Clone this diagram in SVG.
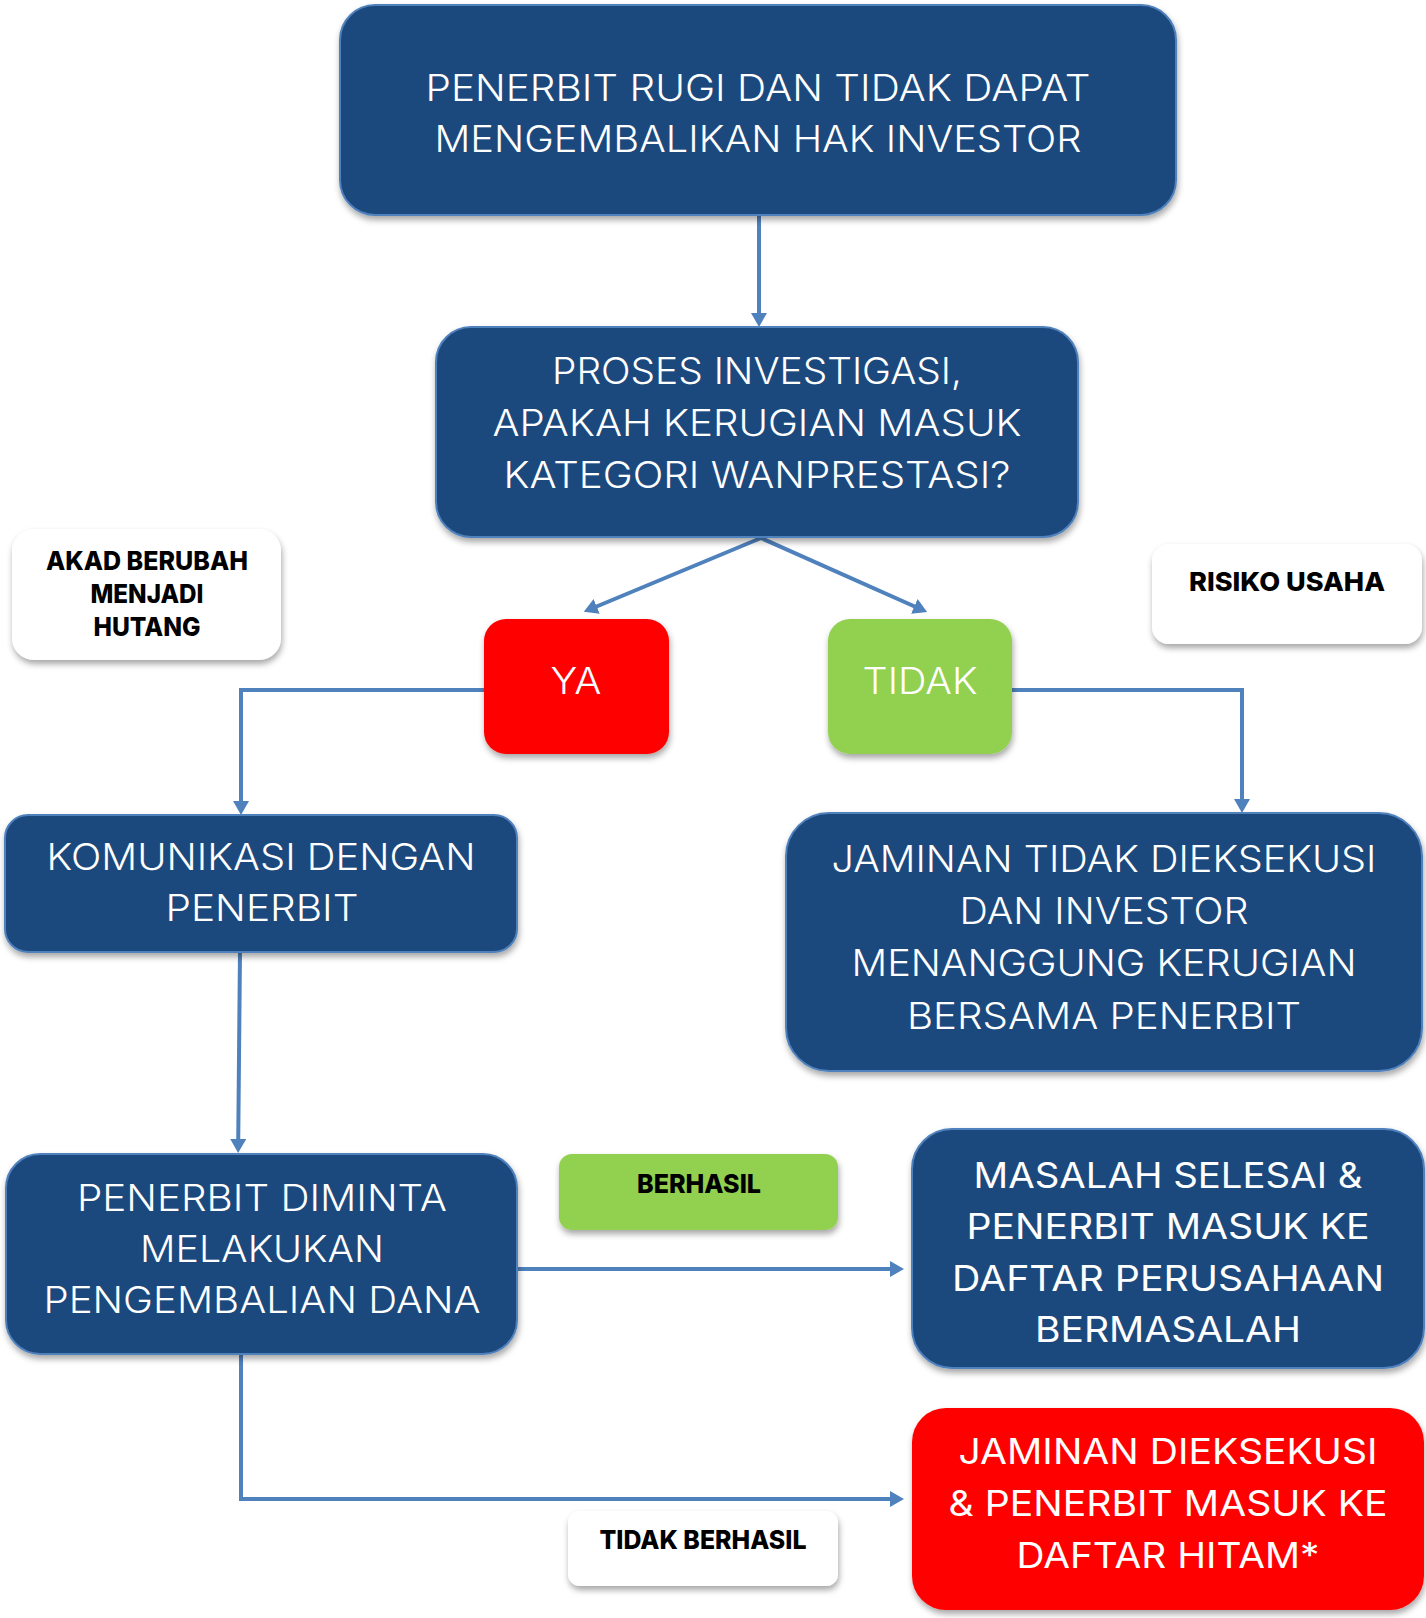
<svg xmlns="http://www.w3.org/2000/svg" width="1426" height="1618" viewBox="0 0 1426 1618">
<style>
.blue{fill:#1F497D;stroke:#4F81BD;stroke-width:2}
.red{fill:#FF0000}
.green{fill:#92D050}
.white{fill:#FFFFFF}
.box{filter:url(#sh)}
text{font-family:"Inter","Open Sans","Liberation Sans",sans-serif;text-anchor:middle}
.lt{fill:#FFFFFF;font-size:36.5px;font-weight:300}
.rg{fill:#FFFFFF;font-size:35px;font-weight:400}
.bd{fill:#000000;font-size:26px;font-weight:800}
.conn{fill:none;stroke:#4F81BD;stroke-width:4;marker-end:url(#arr)}
</style>
<defs>
<filter id="sh" x="-10%" y="-10%" width="120%" height="130%">
<feDropShadow dx="1" dy="4" stdDeviation="3" flood-color="#000000" flood-opacity="0.35"/>
</filter>
<marker id="arr" viewBox="0 0 14 16" refX="4" refY="8" markerWidth="14" markerHeight="16" markerUnits="userSpaceOnUse" orient="auto">
<path d="M0,0 L14,8 L0,16 z" fill="#4F81BD"/>
</marker>
</defs>
<rect width="1426" height="1618" fill="#FFFFFF"/>
<g id="connectors">
<path class="conn" d="M759,215 V317"/>
<path class="conn" d="M761,538 L593,608"/>
<path class="conn" d="M761,538 L918,608"/>
<path class="conn" d="M484,690 H241 V805"/>
<path class="conn" d="M1012,690 H1242 V803"/>
<path class="conn" d="M240,951 L238.2,1143"/>
<path class="conn" d="M517,1269 H894"/>
<path class="conn" d="M241,1354 V1499 H894"/>
</g>
<g id="n-top">
<rect class="blue box" x="340" y="5" width="836" height="210" rx="35"/>
<text class="lt" x="758" y="101" textLength="665" lengthAdjust="spacingAndGlyphs">PENERBIT RUGI DAN TIDAK DAPAT</text>
<text class="lt" x="758" y="152" textLength="647" lengthAdjust="spacingAndGlyphs">MENGEMBALIKAN HAK INVESTOR</text>
</g>
<g id="n-proses">
<rect class="blue box" x="436" y="327" width="642" height="210" rx="35"/>
<text class="lt" x="757" y="384" textLength="410" lengthAdjust="spacingAndGlyphs">PROSES INVESTIGASI,</text>
<text class="lt" x="757" y="436" textLength="529" lengthAdjust="spacingAndGlyphs">APAKAH KERUGIAN MASUK</text>
<text class="lt" x="757" y="488" textLength="507" lengthAdjust="spacingAndGlyphs">KATEGORI WANPRESTASI?</text>
</g>
<g id="n-akad">
<rect class="white box" x="12" y="529" width="269" height="131" rx="22"/>
<text class="bd" x="147" y="570" textLength="202" lengthAdjust="spacingAndGlyphs">AKAD BERUBAH</text>
<text class="bd" x="147" y="603" textLength="113" lengthAdjust="spacingAndGlyphs">MENJADI</text>
<text class="bd" x="147" y="636" textLength="107" lengthAdjust="spacingAndGlyphs">HUTANG</text>
</g>
<g id="n-ya">
<rect class="red box" x="484" y="619" width="185" height="135" rx="22"/>
<text class="lt" x="576" y="694" textLength="51" lengthAdjust="spacingAndGlyphs">YA</text>
</g>
<g id="n-tidak">
<rect class="green box" x="828" y="619" width="184" height="135" rx="22"/>
<text class="lt" x="920" y="694" textLength="115" lengthAdjust="spacingAndGlyphs">TIDAK</text>
</g>
<g id="n-risiko">
<rect class="white box" x="1152" y="544" width="270" height="100" rx="17"/>
<text class="bd" x="1287" y="591" textLength="196" lengthAdjust="spacingAndGlyphs">RISIKO USAHA</text>
</g>
<g id="n-komunikasi">
<rect class="blue box" x="5" y="815" width="512" height="137" rx="23"/>
<text class="lt" x="261" y="870" textLength="429" lengthAdjust="spacingAndGlyphs">KOMUNIKASI DENGAN</text>
<text class="lt" x="262" y="921" textLength="193" lengthAdjust="spacingAndGlyphs">PENERBIT</text>
</g>
<g id="n-jaminan-tidak">
<rect class="blue box" x="786" y="813" width="636" height="258" rx="43"/>
<text class="lt" x="1104" y="872" textLength="545" lengthAdjust="spacingAndGlyphs">JAMINAN TIDAK DIEKSEKUSI</text>
<text class="lt" x="1104" y="924" textLength="289" lengthAdjust="spacingAndGlyphs">DAN INVESTOR</text>
<text class="lt" x="1104" y="976" textLength="505" lengthAdjust="spacingAndGlyphs">MENANGGUNG KERUGIAN</text>
<text class="lt" x="1104" y="1029" textLength="394" lengthAdjust="spacingAndGlyphs">BERSAMA PENERBIT</text>
</g>
<g id="n-penerbit-diminta">
<rect class="blue box" x="6" y="1154" width="511" height="200" rx="34"/>
<text class="lt" x="262" y="1211" textLength="370" lengthAdjust="spacingAndGlyphs">PENERBIT DIMINTA</text>
<text class="lt" x="262" y="1262" textLength="244" lengthAdjust="spacingAndGlyphs">MELAKUKAN</text>
<text class="lt" x="262" y="1313" textLength="437" lengthAdjust="spacingAndGlyphs">PENGEMBALIAN DANA</text>
</g>
<g id="n-berhasil">
<rect class="green box" x="559" y="1154" width="279" height="76" rx="13"/>
<text class="bd" x="699" y="1193" textLength="124" lengthAdjust="spacingAndGlyphs">BERHASIL</text>
</g>
<g id="n-masalah">
<rect class="blue box" x="912" y="1129" width="512" height="239" rx="40"/>
<text class="rg" x="1168" y="1188" textLength="389" lengthAdjust="spacingAndGlyphs">MASALAH SELESAI &amp;</text>
<text class="rg" x="1168" y="1239" textLength="403" lengthAdjust="spacingAndGlyphs">PENERBIT MASUK KE</text>
<text class="rg" x="1168" y="1291" textLength="432" lengthAdjust="spacingAndGlyphs">DAFTAR PERUSAHAAN</text>
<text class="rg" x="1168" y="1342" textLength="266" lengthAdjust="spacingAndGlyphs">BERMASALAH</text>
</g>
<g id="n-jaminan-dieksekusi">
<rect class="red box" x="912" y="1408" width="512" height="202" rx="34"/>
<text class="rg" x="1168" y="1464" textLength="419" lengthAdjust="spacingAndGlyphs">JAMINAN DIEKSEKUSI</text>
<text class="rg" x="1168" y="1516" textLength="439" lengthAdjust="spacingAndGlyphs">&amp; PENERBIT MASUK KE</text>
<text class="rg" x="1168" y="1568" textLength="303" lengthAdjust="spacingAndGlyphs">DAFTAR HITAM*</text>
</g>
<g id="n-tidak-berhasil">
<rect class="white box" x="568" y="1511" width="270" height="75" rx="12"/>
<text class="bd" x="703" y="1549" textLength="207" lengthAdjust="spacingAndGlyphs">TIDAK BERHASIL</text>
</g>
</svg>
